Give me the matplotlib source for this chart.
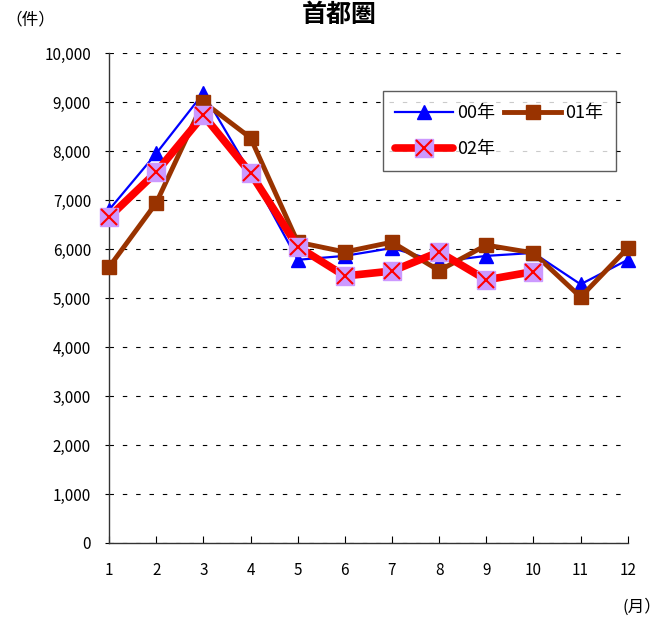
import numpy as np
import matplotlib.pyplot as plt

plt.rcParams['font.family'] = ['Noto Sans CJK JP', 'DejaVu Sans']

# 月別件数（首都圏）
months = [1, 2, 3, 4, 5, 6, 7, 8, 9, 10, 11, 12]
y00 = [6800, 7950, 9180, 7550, 5780, 5860, 6020, 5740, 5860, 5920, 5280, 5780]
y01 = [5630, 6940, 9000, 8270, 6140, 5940, 6140, 5560, 6080, 5920, 5020, 6020]
y02 = [6650, 7570, 8730, 7550, 6050, 5450, 5550, 5940, 5370, 5540]
yticks = list(range(0, 10001, 1000))

fig = plt.figure(figsize=(6.65, 6.17), dpi=100)
ax = fig.add_axes([0.164, 0.120, 0.780, 0.794])

l00, = ax.plot(months, y00, color='#0000FF', lw=1.6, marker='^', ms=10,
               mfc='#0000FF', mec='#0000FF', label='00年', zorder=3,
               clip_on=False)
l01, = ax.plot(months, y01, color='#993300', lw=3.5, marker='s', ms=10,
               mfc='#993300', mec='#993300', label='01年', zorder=4,
               clip_on=False)
m02 = months[:len(y02)]
l02, = ax.plot(m02, y02, color='#FF0000', lw=5.5, marker='s', ms=13,
               mfc='#CC99FF', mec='#CC99FF', zorder=5, solid_capstyle='round',
               clip_on=False)
x02, = ax.plot(m02, y02, ls='none', marker='x', ms=12, mew=1.5,
               color='#FF0000', zorder=6, clip_on=False)

ax.set_xlim(1, 12)
ax.set_ylim(0, 10000)
ax.set_xticks(months)
ax.set_yticks(yticks)
ax.set_yticklabels([f'{v:,}' for v in yticks])
ax.tick_params(axis='x', direction='in', length=5, pad=14, labelsize=11)
ax.tick_params(axis='y', direction='out', length=3, pad=10, labelsize=11)
ax.grid(axis='y', color='black', linestyle=(0, (4, 8)), linewidth=0.8)
ax.set_axisbelow(True)
for s in ['top', 'right']:
    ax.spines[s].set_visible(False)
for s in ['left', 'bottom']:
    ax.spines[s].set_color('#333333')
    ax.spines[s].set_linewidth(1.0)

ax.legend([l00, (l02, x02), l01], ['00年', '02年', '01年'], ncol=2,
          loc='upper left', bbox_to_anchor=(0.51, 0.94), fontsize=13,
          frameon=True, fancybox=False, edgecolor='#333333',
          handlelength=3.2, handletextpad=0.2, columnspacing=0.5,
          borderpad=0.7, labelspacing=1.0)
ax.get_legend().get_frame().set_linewidth(1.0)

fig.text(0.51, 0.975, '首都圏', ha='center', va='center', fontsize=18,
         fontweight='bold')
fig.text(0.008, 0.968, '（件）', ha='left', va='center', fontsize=12)
fig.text(0.995, 0.016, '(月）', ha='right', va='center', fontsize=12)

fig.savefig('out.png', dpi=100)
